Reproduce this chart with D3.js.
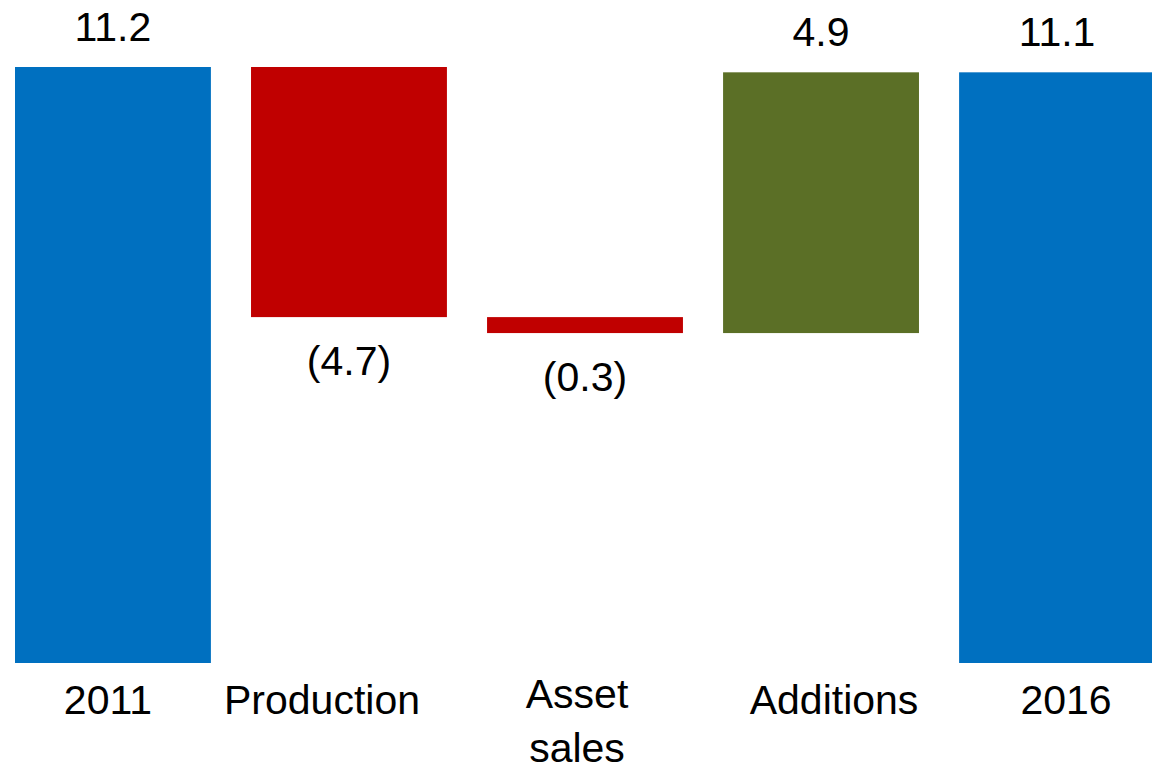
<!DOCTYPE html>
<html>
<head>
<meta charset="utf-8">
<script src="https://cdn.jsdelivr.net/npm/d3@7"></script>
<style>
  html, body { margin: 0; padding: 0; background: #fff; }
  svg { display: block; }
  text { font-family: "Liberation Sans", Arial, sans-serif; fill: #000; }
</style>
</head>
<body>
<svg id="chart"></svg>
<script>
// data
const categories = ["2011", "Production", "Asset\nsales", "Additions", "2016"];
const values = [11.2, -4.7, -0.3, 4.9, 11.1];
const kinds = ["total", "delta", "delta", "delta", "total"];

const width = 1152;
const height = 768;
const fontSize = 41;

// category labels sit a bit off the bar centres in the original
const labelNudge = [-5, -27, -8, 13, 9];

const colors = { total: "#0070C0", down: "#C00000", up: "#5B6F26" };

// running sum for the floating bars
let running = 0;
const bars = categories.map((c, i) => {
  let y0, y1;
  if (kinds[i] === "total") {
    y0 = 0; y1 = values[i]; running = values[i];
  } else {
    y0 = running; y1 = running + values[i]; running = y1;
  }
  return { cat: c, value: values[i], kind: kinds[i], lo: Math.min(y0, y1), hi: Math.max(y0, y1), i };
});

const svg = d3.select("#chart")
  .attr("width", width)
  .attr("height", height);

const x = d3.scaleBand()
  .domain(categories)
  .range([15, 1155])
  .paddingInner(0.17)
  .paddingOuter(0);

const y = d3.scaleLinear()
  .domain([0, 11.2])
  .range([663, 67]);

function barColor(d) {
  if (d.kind === "total") return colors.total;
  return d.value < 0 ? colors.down : colors.up;
}

svg.append("g")
  .selectAll("rect")
  .data(bars)
  .join("rect")
  .attr("x", d => x(d.cat))
  .attr("width", x.bandwidth())
  .attr("y", d => y(d.hi))
  .attr("height", d => y(d.lo) - y(d.hi))
  .attr("fill", barColor);

// value labels
const fmt = v => v < 0 ? "(" + d3.format(".1f")(-v) + ")" : d3.format(".1f")(v);

svg.append("g")
  .selectAll("text")
  .data(bars)
  .join("text")
  .attr("x", d => x(d.cat) + x.bandwidth() / 2)
  .attr("y", d => d.value < 0 ? y(d.lo) + 58 : y(d.hi) - 26)
  .attr("text-anchor", "middle")
  .style("font-size", fontSize + "px")
  .text(d => fmt(d.value));

// category axis
const axis = svg.append("g")
  .attr("transform", "translate(0,663)")
  .call(d3.axisBottom(x).tickSize(0).tickPadding(0));

axis.select(".domain").remove();

axis.selectAll(".tick text")
  .attr("y", 0)
  .attr("dy", null)
  .style("font-size", fontSize + "px")
  .style("font-family", "'Liberation Sans', Arial, sans-serif")
  .attr("fill", "#000")
  .each(function(d) {
    const i = categories.indexOf(d);
    const lines = d.split("\n");
    const t = d3.select(this).text(null);
    const base = 51 - (lines.length - 1) * 6;
    lines.forEach((ln, k) => {
      t.append("tspan")
        .attr("x", labelNudge[i])
        .attr("y", base + k * 54)
        .text(ln);
    });
  });
</script>
</body>
</html>
